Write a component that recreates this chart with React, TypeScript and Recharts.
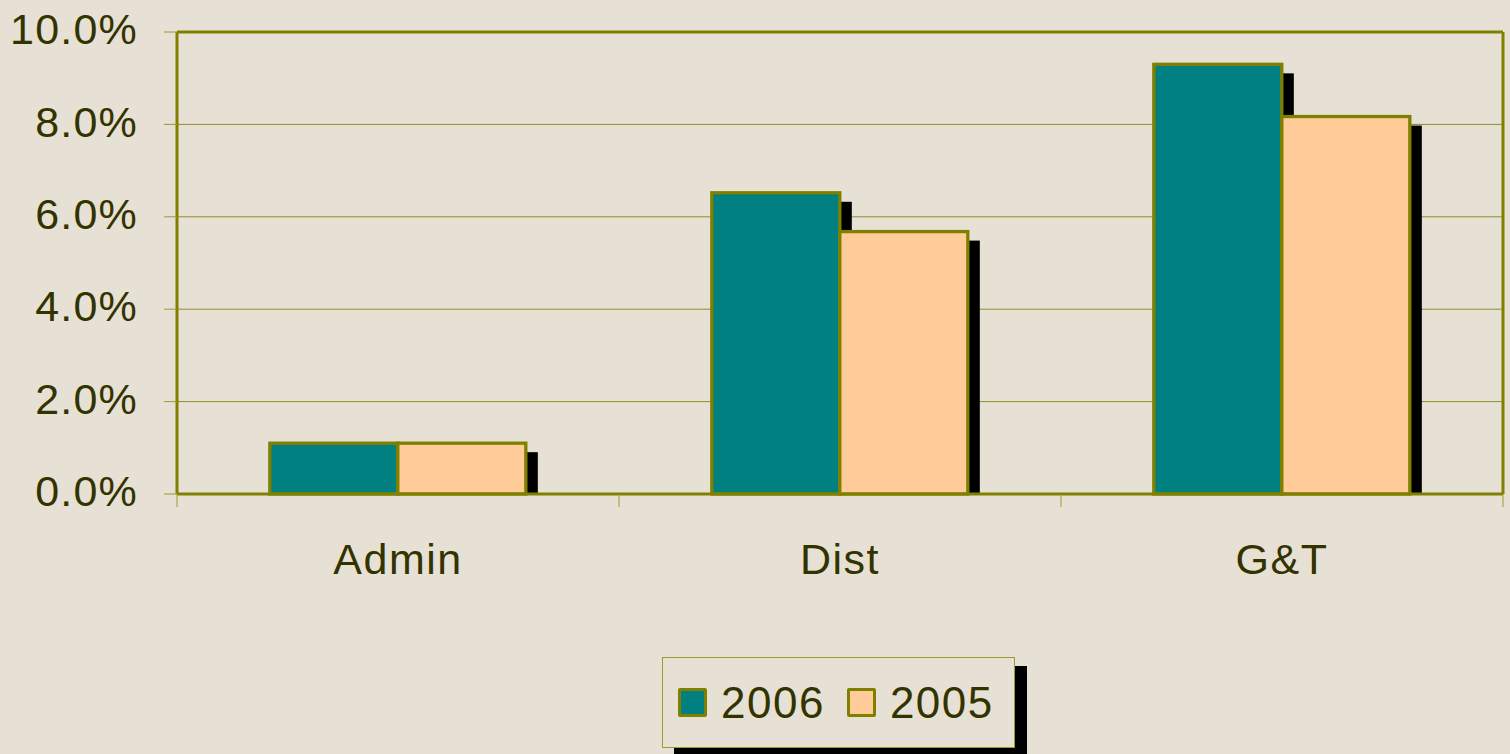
import React from "react";
import {
  BarChart,
  Bar,
  XAxis,
  YAxis,
  CartesianGrid,
  Legend,
  ReferenceLine,
} from "recharts";

const categories = ["Admin", "Dist", "G&T"];
const values2006 = [0.011, 0.0652, 0.093];
const values2005 = [0.011, 0.0568, 0.0817];
const yTicks = [0, 0.02, 0.04, 0.06, 0.08, 0.1];
const seriesNames = ["2006", "2005"];

const OLIVE = "#808000";
const TEXT = "#333300";
const BG = "#E7E0D4";
const TEAL = "#008080";
const PEACH = "#FFCC99";
const TICK = "#9a9a30";

const data = categories.map((name, i) => ({
  name,
  v2006: values2006[i],
  v2005: values2005[i],
}));

// bar with a hard black drop shadow offset down-right, clipped at the axis
function ShadowBar(props: any) {
  const { x, y, width, height, fill } = props;
  if (!height || height <= 0) return null;
  return (
    <g>
      <rect x={x + 12} y={y + 9} width={width} height={Math.max(0, height - 9)} fill="#000" />
      <rect x={x} y={y} width={width} height={height} fill={fill} stroke={OLIVE} strokeWidth={3.3} />
    </g>
  );
}

function YTick(props: any) {
  const { x, y, payload } = props;
  return (
    <text x={x} y={y - 3} dy="0.355em" textAnchor="end" fontSize={43} fill={TEXT} letterSpacing={1.2}>
      {`${(payload.value * 100).toFixed(1)}%`}
    </text>
  );
}

// category label plus tick marks on the band boundaries
function XTick(props: any) {
  const { x, y, payload, index } = props;
  const half = payload.offset || 0;
  const axisY = y - 49;
  return (
    <g>
      <line x1={x - half} x2={x - half} y1={axisY} y2={axisY + 13} stroke={TICK} strokeWidth={1} />
      {index === categories.length - 1 && (
        <line x1={x + half} x2={x + half} y1={axisY} y2={axisY + 13} stroke={TICK} strokeWidth={1} />
      )}
      <text x={x} y={y} dy="0.71em" textAnchor="middle" fontSize={43} fill={TEXT} letterSpacing={1.5}>
        {payload.value}
      </text>
    </g>
  );
}

function LegendBox() {
  const colors = [TEAL, PEACH];
  return (
    <div
      style={{
        width: 353,
        height: 91,
        border: "1px solid #9a9a30",
        background: BG,
        boxShadow: "12px 9px 0 #000",
        display: "flex",
        alignItems: "center",
        paddingLeft: 15,
        boxSizing: "border-box",
      }}
    >
      {seriesNames.map((s, i) => (
        <div key={s} style={{ display: "flex", alignItems: "center", marginRight: 22 }}>
          <div
            style={{
              width: 23,
              height: 23,
              background: colors[i],
              border: `3px solid ${OLIVE}`,
              borderRadius: 2,
            }}
          />
          <span style={{ fontSize: 44, color: TEXT, marginLeft: 14, lineHeight: 1, letterSpacing: 1.5 }}>{s}</span>
        </div>
      ))}
    </div>
  );
}

export default function App() {
  return (
    <div
      style={{
        position: "absolute",
        left: 0,
        top: 0,
        width: 1510,
        height: 754,
        background: BG,
        fontFamily: "'Liberation Sans', Arial, sans-serif",
      }}
    >
      <BarChart
        width={1510}
        height={754}
        data={data}
        margin={{ top: 32, right: 7, bottom: 6, left: 0 }}
        barCategoryGap="21%"
        barGap={0}
      >
        <CartesianGrid vertical={false} stroke="#8f8f28" strokeWidth={1} />
        <XAxis
          dataKey="name"
          tickLine={false}
          tickSize={0}
          tickMargin={49}
          axisLine={{ stroke: OLIVE, strokeWidth: 3 }}
          tick={<XTick />}
          height={163}
          interval={0}
        />
        <YAxis
          domain={[0, 0.1]}
          ticks={yTicks}
          tick={<YTick />}
          tickSize={13}
          tickMargin={26}
          tickLine={{ stroke: TICK, strokeWidth: 1 }}
          axisLine={{ stroke: OLIVE, strokeWidth: 3 }}
          width={177}
        />
        <ReferenceLine y={0.1} stroke={OLIVE} strokeWidth={3} />
        <ReferenceLine x="G&T" position="end" stroke={OLIVE} strokeWidth={3} />
        <Legend
          verticalAlign="bottom"
          wrapperStyle={{ left: 662, width: 353 }}
          content={() => <LegendBox />}
        />
        <Bar dataKey="v2006" name="2006" fill={TEAL} shape={<ShadowBar />} isAnimationActive={false} />
        <Bar dataKey="v2005" name="2005" fill={PEACH} shape={<ShadowBar />} isAnimationActive={false} />
      </BarChart>
    </div>
  );
}
